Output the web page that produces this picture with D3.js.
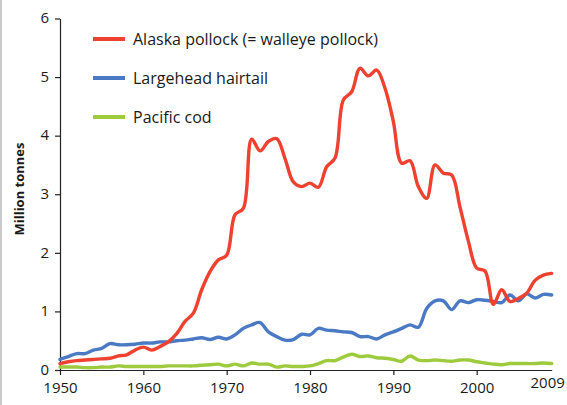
<!DOCTYPE html>
<html>
<head>
<meta charset="utf-8">
<script src="https://cdn.jsdelivr.net/npm/d3@7"></script>
<style>
  html, body { margin: 0; padding: 0; background: #fff; }
  svg { display: block; }
  text { font-family: "Open Sans", "Noto Sans", sans-serif; fill: #1a1a1a; }
</style>
</head>
<body>
<svg id="chart" width="567" height="405"></svg>
<script>
// Catches by species, 1950–2009 (million tonnes)
const years = d3.range(1950, 2010);

const alaskaPollock = [
  0.11, 0.14, 0.16, 0.17, 0.18, 0.19, 0.20, 0.24, 0.26, 0.34,
  0.39, 0.34, 0.40, 0.48, 0.62, 0.83, 0.97, 1.37, 1.68, 1.88,
  1.96, 2.65, 2.76, 3.94, 3.74, 3.90, 3.95, 3.61, 3.21, 3.13,
  3.19, 3.12, 3.47, 3.62, 4.61, 4.75, 5.15, 5.02, 5.12, 4.81,
  4.24, 3.53, 3.57, 3.13, 2.93, 3.50, 3.36, 3.33, 2.78, 2.20,
  1.74, 1.69, 1.12, 1.37, 1.17, 1.22, 1.31, 1.53, 1.62, 1.65
];

const largeheadHairtail = [
  0.18, 0.23, 0.28, 0.28, 0.34, 0.37, 0.45, 0.43, 0.43, 0.44,
  0.46, 0.46, 0.48, 0.48, 0.50, 0.51, 0.53, 0.55, 0.52, 0.56,
  0.53, 0.60, 0.71, 0.77, 0.81, 0.65, 0.57, 0.51, 0.52, 0.61,
  0.60, 0.71, 0.68, 0.67, 0.65, 0.64, 0.57, 0.57, 0.53, 0.60,
  0.65, 0.71, 0.77, 0.73, 1.05, 1.18, 1.18, 1.03, 1.18, 1.15,
  1.20, 1.19, 1.17, 1.15, 1.28, 1.18, 1.30, 1.23, 1.29, 1.28
];

const pacificCod = [
  0.05, 0.05, 0.05, 0.04, 0.04, 0.05, 0.05, 0.07, 0.06, 0.06,
  0.06, 0.06, 0.06, 0.07, 0.07, 0.07, 0.07, 0.08, 0.09, 0.10,
  0.07, 0.10, 0.07, 0.12, 0.10, 0.10, 0.05, 0.07, 0.06, 0.06,
  0.07, 0.11, 0.16, 0.16, 0.22, 0.27, 0.23, 0.24, 0.21, 0.20,
  0.18, 0.15, 0.24, 0.17, 0.16, 0.17, 0.16, 0.15, 0.17, 0.17,
  0.14, 0.12, 0.10, 0.09, 0.11, 0.11, 0.11, 0.11, 0.12, 0.11
];

const seriesNames = ["Alaska pollock (= walleye pollock)", "Largehead hairtail", "Pacific cod"];
const seriesColors = ["#ee412f", "#4a7ac3", "#9dcb3d"];
const xTickYears = [1950, 1960, 1970, 1980, 1990, 2000];
const lastYearLabel = "2009";
const yTicks = [0, 1, 2, 3, 4, 5, 6];
const yTitle = "Million tonnes";

const series = [alaskaPollock, largeheadHairtail, pacificCod].map((vals, i) => ({
  name: seriesNames[i],
  color: seriesColors[i],
  values: vals.map((v, j) => ({ year: years[j], value: v }))
}));

const svg = d3.select("#chart");

// thin frame edge on the left
svg.append("line")
  .attr("x1", 1).attr("x2", 1).attr("y1", 0).attr("y2", 405)
  .attr("stroke", "#c9c9c9").attr("stroke-width", 2);

const x = d3.scaleLinear().domain([1950, 2009]).range([60, 551.7]);
const y = d3.scaleLinear().domain([0, 6]).range([370, 18.5]);

// y axis
const yAxis = svg.append("g")
  .attr("transform", "translate(60,0)")
  .call(d3.axisLeft(y).tickValues(yTicks).tickFormat(d3.format("d"))
    .tickSize(5).tickSizeOuter(0).tickPadding(6));
yAxis.selectAll("text").style("font-size", "15px").attr("dy", "0.28em");

// x axis
const xAxis = svg.append("g")
  .attr("transform", "translate(0,370)")
  .call(d3.axisBottom(x).tickValues(xTickYears).tickFormat(d3.format("d"))
    .tickSize(5).tickSizeOuter(0).tickPadding(7));
xAxis.selectAll("text").style("font-size", "15px");

svg.selectAll(".domain, .tick line").attr("stroke", "#222").attr("stroke-width", 1.2);

// end-year label (no tick)
svg.append("text")
  .attr("x", x(2009) - 4).attr("y", 377)
  .attr("text-anchor", "middle").attr("dy", "0.71em")
  .style("font-size", "15px")
  .text(lastYearLabel);

// axis title
svg.append("text")
  .attr("transform", "translate(24,189) rotate(-90)")
  .attr("text-anchor", "middle")
  .style("font-size", "13px").style("font-weight", "bold")
  .text(yTitle);

// series lines
const line = d3.line()
  .x(d => x(d.year))
  .y(d => y(d.value))
  .curve(d3.curveCatmullRom.alpha(0.5));

// draw cod first, pollock on top
[2, 1, 0].forEach(i => {
  svg.append("path")
    .datum(series[i].values)
    .attr("fill", "none")
    .attr("stroke", series[i].color)
    .attr("stroke-width", 3.4)
    .attr("stroke-linejoin", "round")
    .attr("stroke-linecap", "round")
    .attr("d", line);
});

// legend
const legend = svg.append("g");
series.forEach((s, i) => {
  const ly = 39 + i * 39;
  legend.append("line")
    .attr("x1", 93).attr("x2", 125).attr("y1", ly).attr("y2", ly)
    .attr("stroke", s.color).attr("stroke-width", 4);
  legend.append("text")
    .attr("x", 133).attr("y", ly).attr("dy", "0.35em")
    .style("font-size", "16px")
    .text(s.name);
});
</script>
</body>
</html>
